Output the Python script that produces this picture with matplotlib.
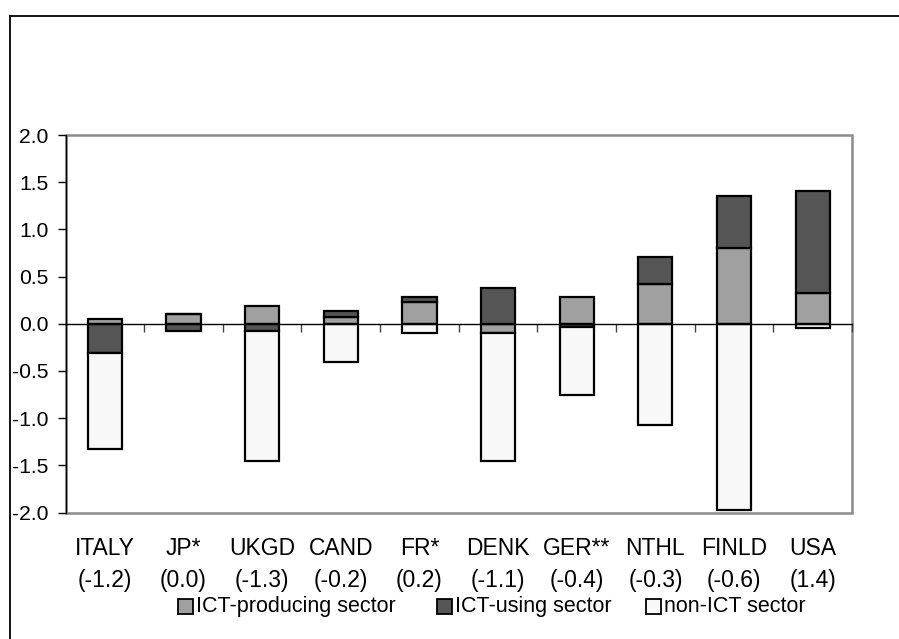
import numpy as np
import matplotlib
matplotlib.use("Agg")
import matplotlib.pyplot as plt
from matplotlib import transforms
from matplotlib.patches import Rectangle
from matplotlib.lines import Line2D

plt.rcParams["font.family"] = ["Liberation Sans", "DejaVu Sans"]
plt.rcParams["axes.unicode_minus"] = False

# Contribution to change in productivity growth, by sector
countries = ["ITALY", "JP*", "UKGD", "CAND", "FR*", "DENK", "GER**", "NTHL", "FINLD", "USA"]
totals = ["(-1.2)", "(0.0)", "(-1.3)", "(-0.2)", "(0.2)", "(-1.1)", "(-0.4)", "(-0.3)", "(-0.6)", "(1.4)"]
ict_producing = [0.05, 0.10, 0.19, 0.07, 0.23, -0.10, 0.28, 0.42, 0.80, 0.33]
ict_using = [-0.31, -0.08, -0.08, 0.07, 0.05, 0.38, -0.03, 0.29, 0.55, 1.08]
non_ict = [-1.02, 0.0, -1.37, -0.41, -0.10, -1.35, -0.73, -1.07, -1.97, -0.05]

series = [
    ("ICT-producing sector", ict_producing, "#a0a0a0"),
    ("ICT-using sector", ict_using, "#555555"),
    ("non-ICT sector", non_ict, "#f8f8f8"),
]

W, H = 899, 639
fig = plt.figure(figsize=(W / 100, H / 100), dpi=100)

def fx(px):
    return px / W

def fy(py):
    return 1 - py / H

ax_l, ax_r, ax_t, ax_b = 65.5, 852.0, 135.0, 512.5
ax = fig.add_axes([fx(ax_l), fy(ax_b), fx(ax_r - ax_l), (ax_b - ax_t) / H])

x = np.arange(len(countries))
pos_base = np.zeros(len(countries))
neg_base = np.zeros(len(countries))
for name, vals, color in series:
    vals = np.asarray(vals, dtype=float)
    bottoms = np.where(vals >= 0, pos_base, neg_base)
    ax.bar(x, vals, bottom=bottoms, width=0.435, color=color,
           edgecolor="black", linewidth=1.6, zorder=2)
    pos_base += np.where(vals >= 0, vals, 0)
    neg_base += np.where(vals < 0, vals, 0)

ax.set_xlim(-0.5, len(countries) - 0.5)
ax.set_ylim(-2.0, 2.0)

# value axis
yt = np.arange(-2.0, 2.01, 0.5)
ax.set_yticks(yt)
ax.set_yticklabels([f"{v:.1f}" for v in yt], fontsize=15.2)
ax.tick_params(axis="y", direction="out", length=5.5, width=1, pad=6.5, colors="black")

# category axis crossing at zero
ax.spines["bottom"].set_position(("data", 0))
ax.spines["bottom"].set_color("black")
ax.spines["bottom"].set_linewidth(1.0)
ax.spines["bottom"].set_zorder(3)
ax.set_xticks(np.arange(0.5, len(countries), 1.0))
ax.set_xticklabels([])
ax.tick_params(axis="x", direction="out", length=6, width=1, colors="#444444")

ax.spines["left"].set_color("black")
ax.spines["left"].set_linewidth(1.0)
ax.spines["left"].set_zorder(4)
ax.spines["top"].set_visible(False)
ax.spines["right"].set_visible(False)

# grey plot-area border
ax.add_patch(Rectangle((0, 0), 1, 1, transform=ax.transAxes, fill=False,
                       edgecolor="#8c8c8c", linewidth=1.8, clip_on=False, zorder=1))

# two-line category labels below the plot area
tr = transforms.blended_transform_factory(ax.transData, fig.transFigure)
for xi, name, tot in zip(x, countries, totals):
    ax.text(xi, fy(555), name, transform=tr, ha="center", va="baseline", fontsize=16.5)
    ax.text(xi, fy(587), tot, transform=tr, ha="center", va="baseline", fontsize=16.5)

# legend row
legend_items = [(178, "ICT-producing sector", "#a0a0a0"),
                (437, "ICT-using sector", "#555555"),
                (646, "non-ICT sector", "#f8f8f8")]
for px, label, color in legend_items:
    fig.add_artist(Rectangle((fx(px), fy(614)), fx(15), 15 / H, transform=fig.transFigure,
                             facecolor=color, edgecolor="black", linewidth=1.3))
    fig.text(fx(px + 18), fy(612), label, ha="left", va="baseline", fontsize=15.5)

# chart frame
fig.add_artist(Line2D([fx(9.5), fx(9.5)], [fy(15.5), 0], color="black", lw=1.3,
                      transform=fig.transFigure))
fig.add_artist(Line2D([fx(9.5), 1], [fy(15.5), fy(15.5)], color="black", lw=1.3,
                      transform=fig.transFigure))

fig.savefig("out.png", dpi=100)
